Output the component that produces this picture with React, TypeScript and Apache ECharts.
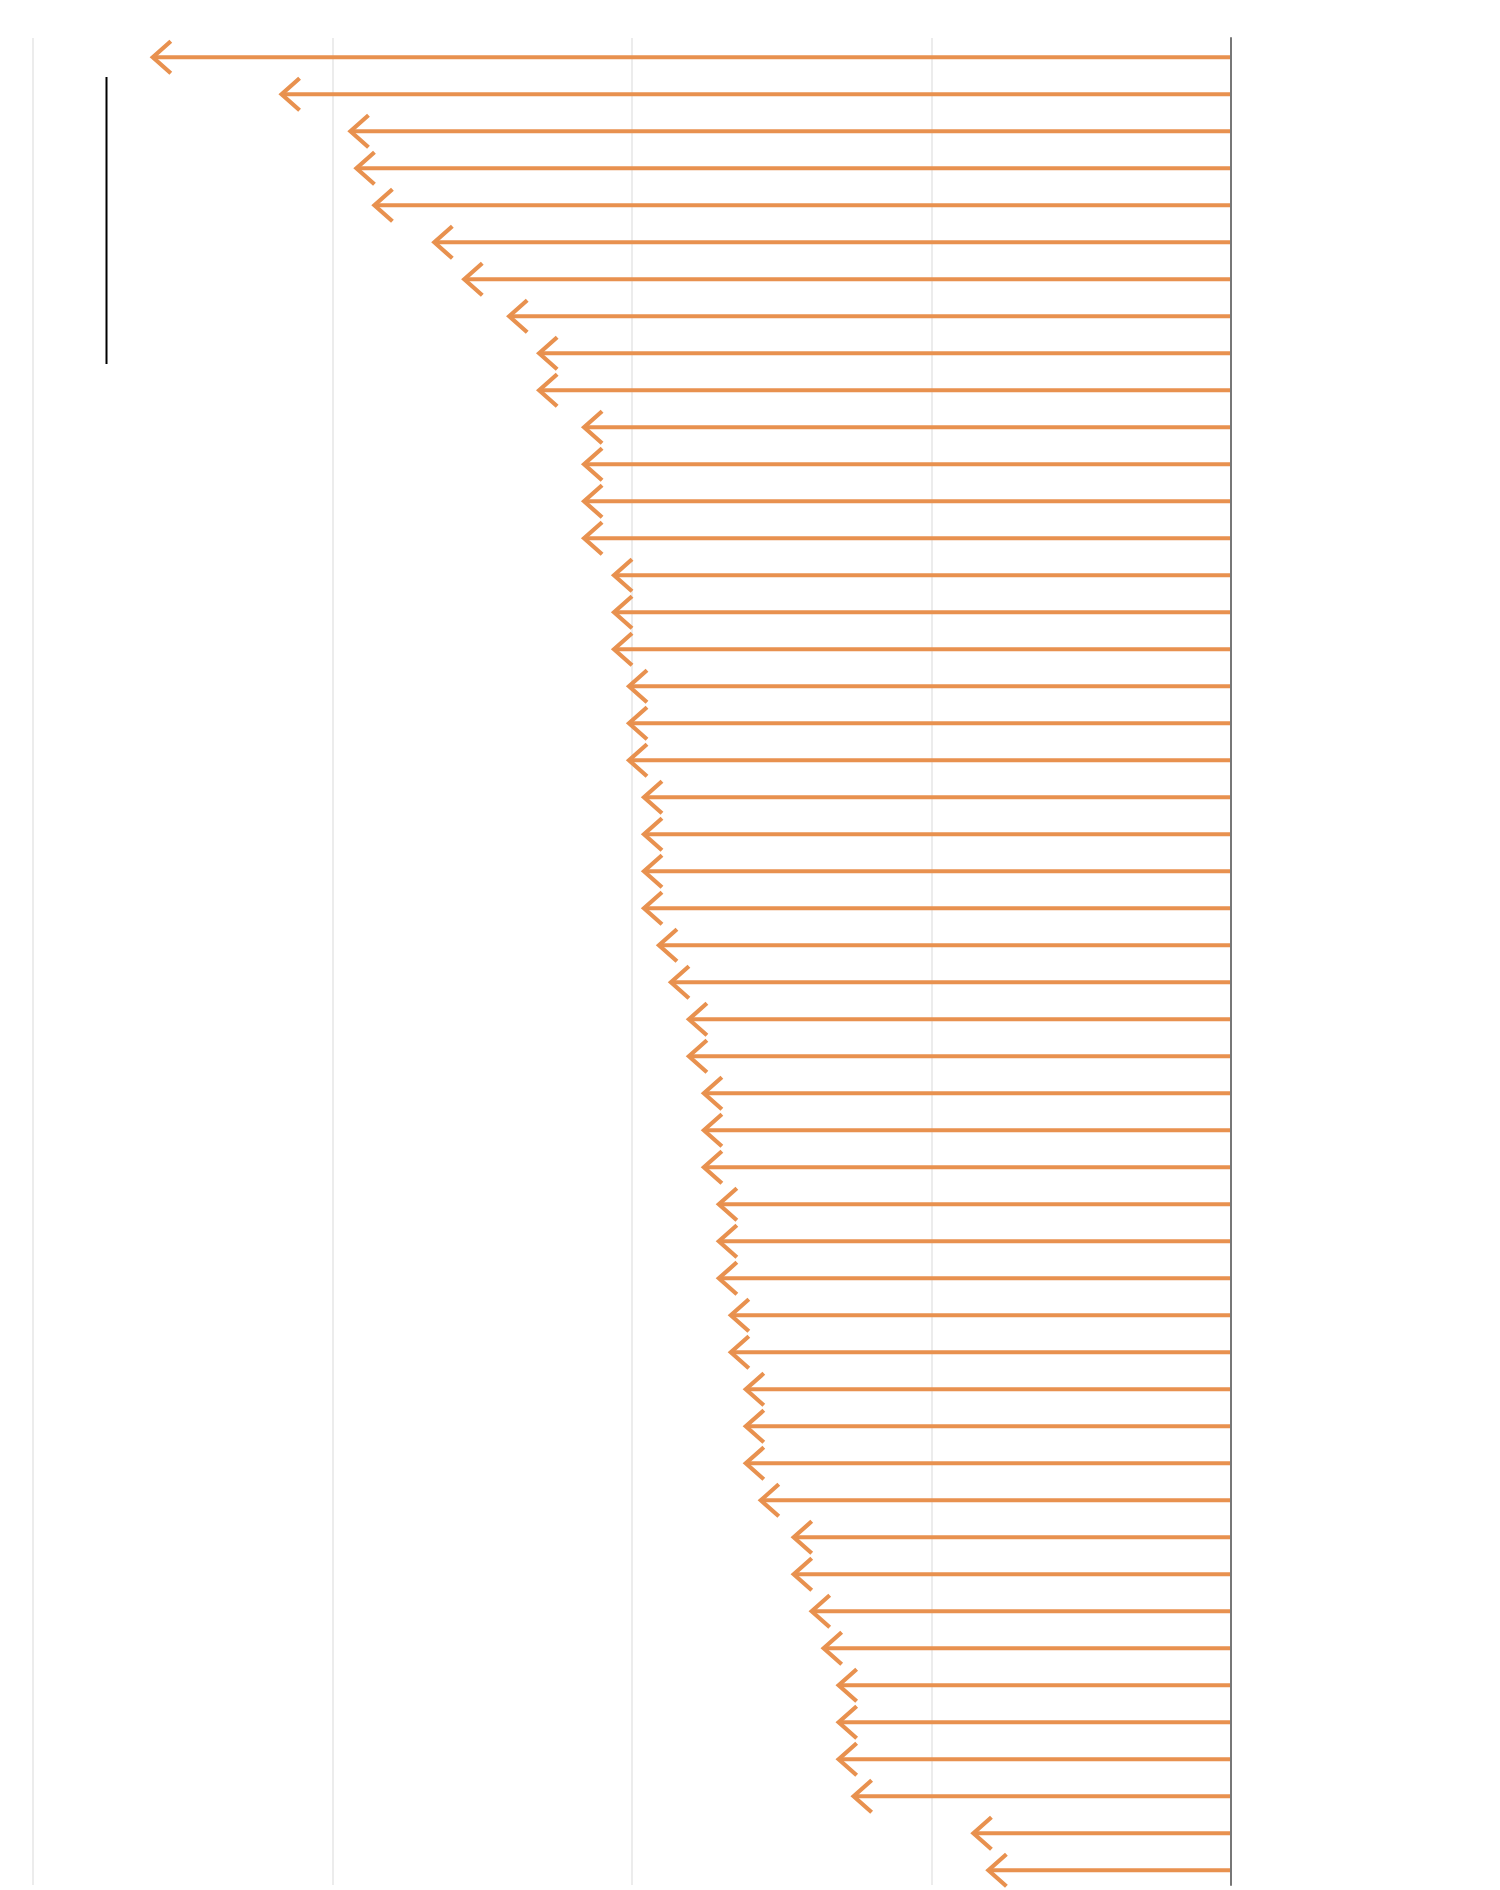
import React, { useEffect, useRef } from "react";
import * as echarts from "echarts";

const categories: string[] = Array.from({ length: 50 }, (_, i) => `Item ${i + 1}`);
const values: number[] = [
  -3.60, -3.17, -2.94, -2.92, -2.86, -2.66, -2.56, -2.41, -2.31, -2.31,
  -2.16, -2.16, -2.16, -2.16, -2.06, -2.06, -2.06, -2.01, -2.01, -2.01,
  -1.96, -1.96, -1.96, -1.96, -1.91, -1.87, -1.81, -1.81, -1.76, -1.76,
  -1.76, -1.71, -1.71, -1.71, -1.67, -1.67, -1.62, -1.62, -1.62, -1.57,
  -1.46, -1.46, -1.40, -1.36, -1.31, -1.31, -1.31, -1.26, -0.86, -0.81,
];
const xTicks = { min: -4, max: 0, interval: 1 };

const ARROW = "#E8914F";

export default function App() {
  const ref = useRef<HTMLDivElement>(null);
  useEffect(() => {
    document.body.style.margin = "0";
    if (!ref.current) return;
    const chart = echarts.init(ref.current, undefined, { renderer: "svg" });
    const data = values.map((v, i) => [v, i]);
    chart.setOption({
      animation: false,
      backgroundColor: "#ffffff",
      grid: [
        { left: 33, right: 269, top: 38, bottom: 5, containLabel: false },
        { left: 33, right: 269, top: 38.8, bottom: 1.2, containLabel: false },
      ],
      xAxis: [
        {
          type: "value",
          gridIndex: 0,
          min: xTicks.min,
          max: xTicks.max,
          interval: xTicks.interval,
          axisLine: { show: false },
          axisTick: { show: false },
          axisLabel: { show: false },
          splitLine: { show: true, lineStyle: { color: "#e6e6e6", width: 1.5 } },
        },
        {
          type: "value",
          gridIndex: 1,
          min: xTicks.min,
          max: xTicks.max,
          interval: xTicks.interval,
          axisLine: { show: false },
          axisTick: { show: false },
          axisLabel: { show: false },
          splitLine: { show: false },
        },
      ],
      yAxis: [
        {
          type: "category",
          gridIndex: 0,
          data: categories,
          inverse: true,
          position: "right",
          axisLine: { show: true, onZero: false, lineStyle: { color: "#777777", width: 2 } },
          axisTick: { show: false },
          axisLabel: { show: false },
          splitLine: { show: false },
          z: 5,
        },
        {
          type: "category",
          gridIndex: 1,
          data: categories,
          inverse: true,
          axisLine: { show: false },
          axisTick: { show: false },
          axisLabel: { show: false },
          splitLine: { show: false },
        },
      ],
      graphic: [
        {
          type: "line",
          shape: { x1: 106.5, y1: 77, x2: 106.5, y2: 364 },
          style: { stroke: "#000000", lineWidth: 2 },
          z: 10,
        },
      ],
      series: [
        {
          type: "custom",
          xAxisIndex: 1,
          yAxisIndex: 1,
          data,
          encode: { x: 0, y: 1 },
          z: 1,
          renderItem: (params: any, api: any) => {
            const v = api.value(0);
            const idx = api.value(1);
            const tip = api.coord([v, idx]);
            const end = api.coord([0, idx]);
            return {
              type: "group",
              children: [
                {
                  type: "line",
                  shape: { x1: tip[0], y1: tip[1], x2: end[0], y2: end[1] },
                  style: { stroke: ARROW, lineWidth: 4, lineCap: "butt" },
                },
                {
                  type: "polyline",
                  shape: {
                    points: [
                      [tip[0] + 18, tip[1] - 16],
                      [tip[0], tip[1]],
                      [tip[0] + 18, tip[1] + 16],
                    ],
                  },
                  style: { stroke: ARROW, lineWidth: 4.2, fill: "none", lineJoin: "miter", lineCap: "butt" },
                },
              ],
            };
          },
        },
      ],
    });
    return () => chart.dispose();
  }, []);
  return <div ref={ref} style={{ width: 1500, height: 1890 }} />;
}
